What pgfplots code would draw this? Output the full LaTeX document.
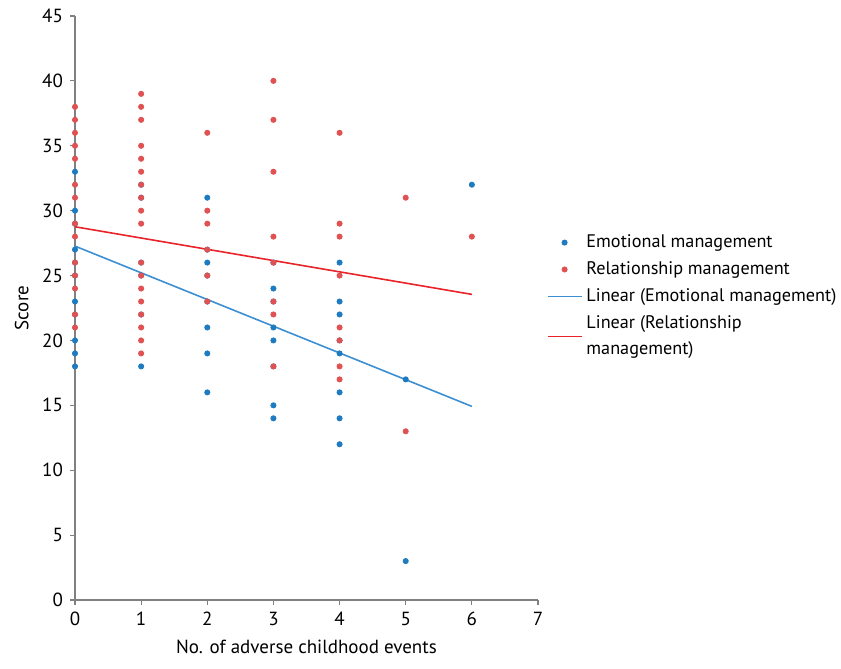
\documentclass[border=0pt]{standalone}
\usepackage{fontspec}
\setmainfont{PT Sans}
\usepackage{pgfplots}
\pgfplotsset{compat=1.18}
\definecolor{emo}{HTML}{1F7BC0}
\definecolor{rel}{HTML}{E05252}
\definecolor{emoline}{HTML}{3C8FD2}
\definecolor{relline}{HTML}{E8232A}
\definecolor{axgray}{HTML}{808080}
\begin{document}
\begin{tikzpicture}
\begin{axis}[
  width=231.5pt, height=292pt, scale only axis,
  xmin=0, xmax=7, ymin=0, ymax=45,
  xtick={0,1,...,7}, ytick={0,5,...,45},
  axis lines*=left,
  axis line style={axgray, line width=0.6pt},
  tick style={axgray, line width=0.6pt},
  tick align=outside, major tick length=2.5pt,
  font=\fontsize{9.5}{12}\selectfont,
  /pgf/number format/assume math mode=true,
  xlabel={No. of adverse childhood events},
  ylabel={Score},
  clip=false,
  legend cell align=left,
  legend style={draw=none, fill=none, at={(1.005,0.64)}, anchor=north west,
    font=\fontsize{9.1}{13}\selectfont, cells={align=left}, row sep=1.5pt},
]
\addplot[only marks, mark=*, mark size=1.3pt, color=emo] coordinates {
 (0,33)(0,30)(0,29)(0,27)(0,26)(0,25)(0,23)(0,22)(0,20)(0,19)(0,18)
 (1,32)(1,31)(1,26)(1,25)(1,22)(1,18)
 (2,31)(2,27)(2,26)(2,25)(2,23)(2,21)(2,19)(2,16)
 (3,26)(3,24)(3,23)(3,21)(3,20)(3,18)(3,15)(3,14)
 (4,26)(4,23)(4,22)(4,20)(4,19)(4,16)(4,14)(4,12)
 (5,17)(5,3)
 (6,32)
};
\addlegendentry{Emotional management}
\addplot[only marks, mark=*, mark size=1.3pt, color=rel] coordinates {
 (0,38)(0,37)(0,36)(0,35)(0,34)(0,32)(0,31)(0,29)(0,28)(0,26)(0,25)(0,24)(0,22)(0,21)
 (1,39)(1,38)(1,37)(1,35)(1,34)(1,33)(1,32)(1,31)(1,30)(1,29)(1,26)(1,25)(1,24)(1,23)(1,22)(1,21)(1,20)(1,19)
 (2,36)(2,30)(2,29)(2,27)(2,25)(2,23)
 (3,40)(3,37)(3,33)(3,28)(3,26)(3,23)(3,22)(3,18)
 (4,36)(4,29)(4,28)(4,25)(4,21)(4,20)(4,18)(4,17)
 (5,31)(5,13)
 (6,28)
};
\addlegendentry{Relationship management}
\addplot[emoline, line width=0.8pt, mark=none] coordinates {(0,27.27)(6,14.92)};
\addlegendentry{Linear (Emotional management)}
\addplot[relline, line width=0.8pt, mark=none] coordinates {(0,28.76)(6,23.55)};
\addlegendentry{Linear (Relationship\\management)}
\coordinate (bl) at (rel axis cs:0,0);
\coordinate (tr) at (rel axis cs:1,1);
\end{axis}
\pgfresetboundingbox
\path[use as bounding box] ([shift={(-37.5pt,-34pt)}]bl) rectangle ([shift={(151.5pt,8pt)}]tr);
\end{tikzpicture}
\end{document}
